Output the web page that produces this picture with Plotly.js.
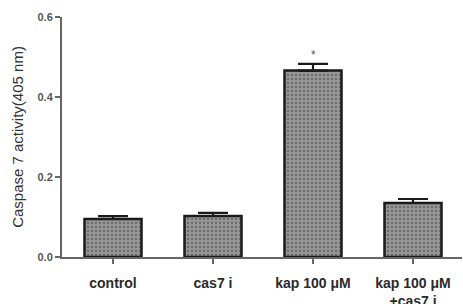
<!DOCTYPE html>
<html>
<head>
<meta charset="utf-8">
<script src="https://cdn.plot.ly/plotly-3.0.1.min.js"></script>
<style>html,body{margin:0;padding:0;background:#fff;}#chart{width:463px;height:304px;}</style>
</head>
<body>
<div id="chart"></div>
<script>
var categories = ["control", "cas7 i", "kap 100 μM", "kap 100 μM<br>+cas7 i"];
var values = [0.095, 0.1025, 0.466, 0.135];
var errors = [0.007, 0.008, 0.017, 0.010];
var yTicks = [0, 0.2, 0.4, 0.6];
var yTickLabels = ["0.0", "0.2", "0.4", "0.6"];
var marks = ["", "", "*", ""];

var xIdx = categories.map(function(c, i){ return i; });

var trace = {
  type: "bar",
  x: xIdx,
  y: values,
  width: 0.57,
  marker: {
    color: "#929292",
    line: {color: "#1a1a1a", width: 2.5},
    pattern: {shape: ".", fgcolor: "#6a6a6a", bgcolor: "#969696", size: 4, solidity: 0.25}
  },
  error_y: {
    type: "data", symmetric: false, array: errors,
    arrayminus: errors.map(function(){ return 0; }),
    color: "#1a1a1a", thickness: 2.2, width: 15
  },
  hoverinfo: "none"
};

var annotations = [];
marks.forEach(function(m, i){
  if (m) annotations.push({
    x: i, y: values[i] + errors[i], yref: "y", xref: "x",
    text: m, showarrow: false, yanchor: "bottom", yshift: 0,
    font: {family: "Arial, Liberation Sans, sans-serif", size: 12, color: "#555"}
  });
});

var layout = {
  width: 463, height: 304,
  margin: {l: 62, r: 1, t: 17, b: 47},
  paper_bgcolor: "#fff", plot_bgcolor: "#fff",
  showlegend: false,
  xaxis: {
    range: [-0.51, 3.49],
    tickvals: xIdx, ticktext: categories,
    showline: true, linecolor: "#666", linewidth: 2,
    ticks: "outside", ticklen: 5, tickwidth: 1.5, tickcolor: "#666",
    ticklabelstandoff: 7,
    showgrid: false, zeroline: false,
    tickfont: {family: "Arial, Liberation Sans, sans-serif", size: 14, color: "#2a2a2a", weight: "bold"},
    fixedrange: true
  },
  yaxis: {
    range: [0, 0.6],
    tickvals: yTicks, ticktext: yTickLabels,
    showline: true, linecolor: "#666", linewidth: 2,
    ticks: "outside", ticklen: 5, tickwidth: 1.5, tickcolor: "#666",
    showgrid: false, zeroline: false,
    tickfont: {family: "Arial, Liberation Sans, sans-serif", size: 11, color: "#555", weight: "bold"},
    title: {text: "Caspase 7 activity(405 nm)", standoff: 10,
      font: {family: "Arial, Liberation Sans, sans-serif", size: 15, color: "#333"}},
    fixedrange: true
  },
  annotations: annotations
};

Plotly.newPlot("chart", [trace], layout, {displayModeBar: false, staticPlot: true});
</script>
</body>
</html>
